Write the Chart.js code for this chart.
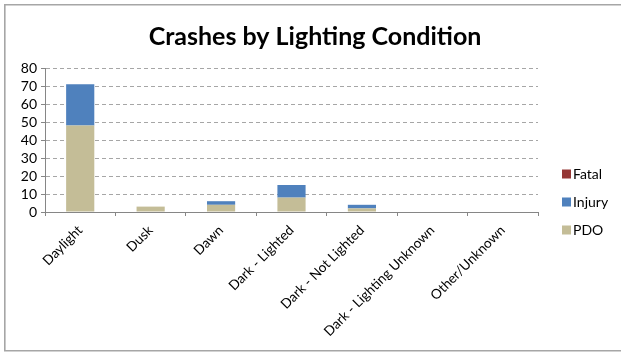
<!DOCTYPE html>
<html>
<head>
<meta charset="utf-8">
<script src="https://cdn.jsdelivr.net/npm/chart.js@4/dist/chart.umd.min.js"></script>
<style>
  html, body { margin: 0; padding: 0; background: #ffffff; }
  #wrap { width: 621px; height: 352px; position: relative; }
</style>
</head>
<body>
<div id="wrap"><canvas id="c" width="621" height="352"></canvas></div>
<script>
// Crash counts by lighting condition, stacked by severity
const categories = ['Daylight', 'Dusk', 'Dawn', 'Dark - Lighted', 'Dark - Not Lighted', 'Dark - Lighting Unknown', 'Other/Unknown'];
const pdoCounts    = [48, 3, 4, 8, 2, 0, 0];
const injuryCounts = [23, 0, 2, 7, 2, 0, 0];
const fatalCounts  = [0, 0, 0, 0, 0, 0, 0];
const yTicks = [0, 10, 20, 30, 40, 50, 60, 70, 80];
const chartTitle = 'Crashes by Lighting Condition';

const FONT = 'Lato, "Open Sans", "DejaVu Sans", sans-serif';

// Frame around the chart
const framePlugin = {
  id: 'frame',
  beforeDraw(chart) {
    const ctx = chart.ctx;
    ctx.save();
    ctx.fillStyle = '#ffffff';
    ctx.fillRect(0, 0, chart.width, chart.height);
    ctx.strokeStyle = '#a6a6a6';
    ctx.lineWidth = 1.6;
    ctx.beginPath();
    ctx.moveTo(chart.width + 2, 4.8);
    ctx.lineTo(4.8, 4.8);
    ctx.lineTo(4.8, 350.8);
    ctx.lineTo(chart.width + 2, 350.8);
    ctx.stroke();
    ctx.restore();
  }
};

// Title centred across the whole chart
const titlePlugin = {
  id: 'centerTitle',
  afterDraw(chart) {
    const ctx = chart.ctx;
    ctx.save();
    ctx.font = 'bold 25px ' + FONT;
    ctx.fillStyle = '#000000';
    ctx.textAlign = 'center';
    ctx.textBaseline = 'middle';
    ctx.fillText(chartTitle, 315, 37);
    ctx.restore();
  }
};

// Category labels, slanted 45 degrees, ending at each category centre
const slantLabels = {
  id: 'slantLabels',
  afterDraw(chart) {
    const ctx = chart.ctx;
    const xs = chart.scales.x;
    const y0 = chart.chartArea.bottom + 16;
    ctx.save();
    ctx.font = '13.6px ' + FONT;
    ctx.fillStyle = '#000000';
    ctx.textAlign = 'right';
    ctx.textBaseline = 'middle';
    chart.data.labels.forEach((lab, i) => {
      const px = xs.getPixelForTick(i);
      ctx.save();
      ctx.translate(px, y0);
      ctx.rotate(-Math.PI / 4);
      ctx.fillText(lab, 0, 0);
      ctx.restore();
    });
    ctx.restore();
  }
};

// Legend on the right, listed top series first
const sideLegend = {
  id: 'sideLegend',
  afterDraw(chart) {
    const ctx = chart.ctx;
    const sets = chart.data.datasets.slice().reverse();
    ctx.save();
    ctx.font = '14px ' + FONT;
    ctx.textBaseline = 'middle';
    ctx.textAlign = 'left';
    sets.forEach((ds, i) => {
      const cy = 174 + i * 28;
      ctx.fillStyle = ds.backgroundColor;
      ctx.fillRect(562, cy - 4.5, 9, 9);
      ctx.fillStyle = '#000000';
      ctx.fillText(ds.label, 573, cy + 0.5);
    });
    ctx.restore();
  }
};

new Chart(document.getElementById('c'), {
  type: 'bar',
  data: {
    labels: categories,
    datasets: [
      { label: 'PDO', data: pdoCounts, backgroundColor: '#c4bd97', borderWidth: 0 },
      { label: 'Injury', data: injuryCounts, backgroundColor: '#4f81bd', borderWidth: 0 },
      { label: 'Fatal', data: fatalCounts, backgroundColor: '#953735', borderWidth: 0 }
    ]
  },
  options: {
    responsive: false,
    animation: false,
    layout: { padding: { left: 0, right: 83, top: 68, bottom: 0 } },
    datasets: { bar: { categoryPercentage: 0.4, barPercentage: 1.0 } },
    plugins: {
      legend: { display: false },
      tooltip: { enabled: false },
      title: { display: false }
    },
    scales: {
      x: {
        stacked: true,
        offset: true,
        grid: {
          display: true,
          drawOnChartArea: false,
          drawTicks: true,
          tickLength: 4,
          offset: true,
          color: '#868686'
        },
        border: { display: true, color: '#868686', width: 1 },
        ticks: { display: false },
        afterFit(scale) { scale.height = 140; }
      },
      y: {
        stacked: true,
        min: 0,
        max: 80,
        afterBuildTicks(scale) { scale.ticks = yTicks.map(v => ({ value: v })); },
        grid: {
          color: '#a6a6a6',
          lineWidth: 1,
          tickLength: 4,
          tickColor: '#868686'
        },
        border: { display: true, color: '#868686', width: 1, dash: [4, 3] },
        ticks: {
          color: '#000000',
          font: { family: FONT, size: 14 },
          padding: 4,
          autoSkip: false,
          stepSize: 10
        },
        afterFit(scale) { scale.width = 45; }
      }
    }
  },
  plugins: [framePlugin, titlePlugin, slantLabels, sideLegend]
});
</script>
</body>
</html>
